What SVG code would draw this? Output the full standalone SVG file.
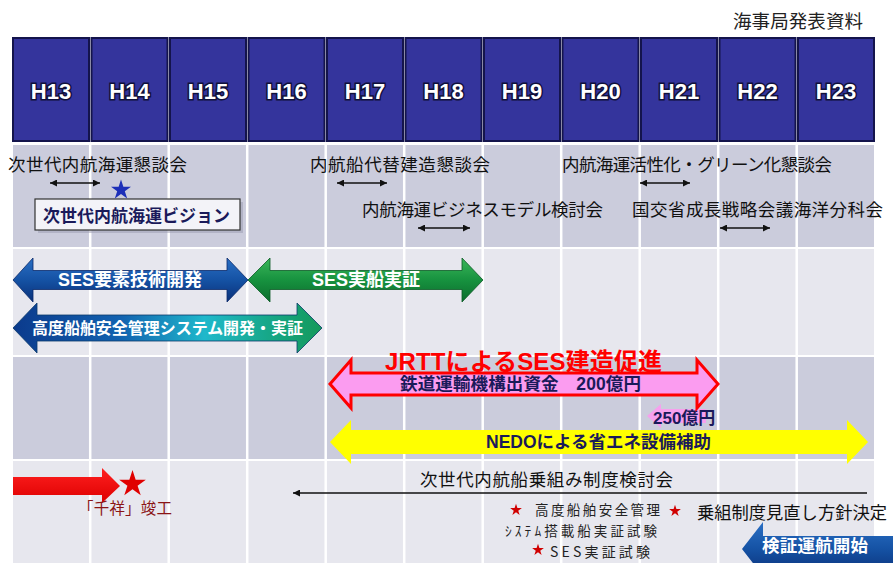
<svg xmlns="http://www.w3.org/2000/svg" width="893" height="563" viewBox="0 0 893 563">
<style>
.hdr{fill:#34349c;stroke:#14144c;stroke-width:2}
.htx{font-family:"Liberation Sans",Arial,sans-serif;font-weight:bold;font-size:22px;fill:#fff;stroke:#10103a;stroke-width:3;paint-order:stroke;text-anchor:middle;dominant-baseline:central}
.jp{font-family:"Noto Sans CJK JP","Liberation Sans",sans-serif;dominant-baseline:central}
.lbl{font-size:17.5px;fill:#111}
.wb{font-family:"Liberation Sans","Noto Sans CJK JP",sans-serif;font-weight:bold;fill:#fff;text-anchor:middle;dominant-baseline:central}
.nb{font-family:"Liberation Sans","Noto Sans CJK JP",sans-serif;font-weight:bold;fill:#1a1a5a;dominant-baseline:central}
.rowA{fill:#cbccdc}
.rowB{fill:#e7e7ee}
.div{stroke:#fff;stroke-width:2.5}
.con{stroke:#111;stroke-width:1.6;fill:none}
.sr{fill:#d00000}
</style>
<defs>
<marker id="ah" viewBox="0 0 10 10" refX="10" refY="5" markerUnits="userSpaceOnUse" markerWidth="9" markerHeight="7" orient="auto-start-reverse">
<path d="M0,0 L10,5 L0,10 z" fill="#111"/>
</marker>
<path id="star" d="M0,-10 L2.245,-3.09 L9.511,-3.09 L3.633,1.18 L5.878,8.09 L0,3.82 L-5.878,8.09 L-3.633,1.18 L-9.511,-3.09 L-2.245,-3.09 Z"/>
<linearGradient id="gBlue" x1="0" y1="0" x2="0" y2="1">
<stop offset="0" stop-color="#2a6fc4"/><stop offset="0.5" stop-color="#1552a4"/><stop offset="1" stop-color="#0a3078"/>
</linearGradient>
<linearGradient id="gGreen" x1="0" y1="0" x2="0" y2="1">
<stop offset="0" stop-color="#3bb65a"/><stop offset="0.5" stop-color="#17923f"/><stop offset="1" stop-color="#0b6c2d"/>
</linearGradient>
<linearGradient id="gTeal" x1="0" y1="0" x2="1" y2="0">
<stop offset="0" stop-color="#0b3a8c"/><stop offset="0.35" stop-color="#1262b0"/><stop offset="0.62" stop-color="#1fb8cb"/><stop offset="0.82" stop-color="#17a88a"/><stop offset="1" stop-color="#14995a"/>
</linearGradient>
<linearGradient id="gRed" x1="0" y1="0" x2="0" y2="1">
<stop offset="0" stop-color="#ff2020"/><stop offset="1" stop-color="#dd0000"/>
</linearGradient>
</defs>

<rect width="893" height="563" fill="#fff"/>

<g id="title"><text class="jp" x="733" y="20" font-size="18.5" fill="#222" textLength="130">海事局発表資料</text></g>

<g id="header">
<g id="h13"><rect class="hdr" x="13" y="38" width="76" height="103"/><text class="htx" x="51" y="91">H13</text></g>
<g id="h14"><rect class="hdr" x="91.5" y="38" width="76" height="103"/><text class="htx" x="129.5" y="91">H14</text></g>
<g id="h15"><rect class="hdr" x="170" y="38" width="76" height="103"/><text class="htx" x="208" y="91">H15</text></g>
<g id="h16"><rect class="hdr" x="248.5" y="38" width="76" height="103"/><text class="htx" x="286.5" y="91">H16</text></g>
<g id="h17"><rect class="hdr" x="327" y="38" width="76" height="103"/><text class="htx" x="365" y="91">H17</text></g>
<g id="h18"><rect class="hdr" x="405.5" y="38" width="76" height="103"/><text class="htx" x="443.5" y="91">H18</text></g>
<g id="h19"><rect class="hdr" x="484" y="38" width="76" height="103"/><text class="htx" x="522" y="91">H19</text></g>
<g id="h20"><rect class="hdr" x="562.5" y="38" width="76" height="103"/><text class="htx" x="600.5" y="91">H20</text></g>
<g id="h21"><rect class="hdr" x="641" y="38" width="76" height="103"/><text class="htx" x="679" y="91">H21</text></g>
<g id="h22"><rect class="hdr" x="719.5" y="38" width="76" height="103"/><text class="htx" x="757.5" y="91">H22</text></g>
<g id="h23"><rect class="hdr" x="798" y="38" width="76" height="103"/><text class="htx" x="836" y="91">H23</text></g>
</g>

<g id="grid">
<rect class="rowA" x="13" y="145" width="861" height="102"/>
<rect class="rowB" x="13" y="249" width="861" height="106"/>
<rect class="rowA" x="13" y="357" width="861" height="102"/>
<rect class="rowB" x="13" y="461" width="861" height="102"/>
<line class="div" x1="90.2" y1="145" x2="90.2" y2="563"/>
<line class="div" x1="168.7" y1="145" x2="168.7" y2="563"/>
<line class="div" x1="247.2" y1="145" x2="247.2" y2="563"/>
<line class="div" x1="325.7" y1="145" x2="325.7" y2="563"/>
<line class="div" x1="404.2" y1="145" x2="404.2" y2="563"/>
<line class="div" x1="482.7" y1="145" x2="482.7" y2="563"/>
<line class="div" x1="561.2" y1="145" x2="561.2" y2="563"/>
<line class="div" x1="639.7" y1="145" x2="639.7" y2="563"/>
<line class="div" x1="718.2" y1="145" x2="718.2" y2="563"/>
<line class="div" x1="796.7" y1="145" x2="796.7" y2="563"/>
</g>

<g id="committees">
<g id="c1"><text class="jp lbl" x="8" y="163" textLength="179">次世代内航海運懇談会</text></g>
<g id="c2"><text class="jp lbl" x="310" y="163" textLength="180">内航船代替建造懇談会</text></g>
<g id="c3"><text class="jp lbl" x="562" y="163" textLength="270">内航海運活性化・グリーン化懇談会</text></g>
<g id="c4"><text class="jp lbl" x="362" y="208" textLength="241">内航海運ビジネスモデル検討会</text></g>
<g id="c5"><text class="jp lbl" x="632" y="208" textLength="251">国交省成長戦略会議海洋分科会</text></g>
<g id="vision">
<rect x="36" y="200" width="205" height="31" fill="#9a9ab0" opacity="0.5" transform="translate(2,2)"/>
<rect x="35" y="199" width="205" height="31" fill="#f3f3f8" stroke="#333" stroke-width="1.2"/>
<text class="nb" x="43" y="216" font-size="17" textLength="187" fill="#1a1a50">次世代内航海運ビジョン</text>
</g>
<g id="bluestar"><use href="#star" fill="#1d2fb8" transform="translate(121,190) scale(1.05)"/></g>
</g>

<g id="dev-arrows">
<g id="ses-dev">
<polygon points="13,280 33,258 33,270.5 227,270.5 227,258 248,280 227,302 227,289.5 33,289.5 33,302" fill="url(#gBlue)" stroke="#0a2a6a" stroke-width="0.8"/>
<text class="wb" x="130" y="280" font-size="18">SES要素技術開発</text>
</g>
<g id="ses-ship">
<polygon points="248,280 270,258 270,270.5 462,270.5 462,258 483,280 462,302 462,289.5 270,289.5 270,302" fill="url(#gGreen)" stroke="#0b5a25" stroke-width="0.8"/>
<text class="wb" x="366" y="280" font-size="18">SES実船実証</text>
</g>
<g id="safety-sys">
<polygon points="13,328 37,303 37,315 297,315 297,303 322,328 297,353 297,341 37,341 37,353" fill="url(#gTeal)" stroke="#0a3a6a" stroke-width="0.8"/>
<text class="wb" x="167.5" y="328" font-size="16" textLength="271">高度船舶安全管理システム開発・実証</text>
</g>
</g>

<g id="funding">
<g id="jrtt">
<polygon points="647,416 661,404 661,409 706,409 706,423 661,423 661,428" fill="#f7a0ee"/>
<text class="nb" x="653" y="418" font-size="17">250億円</text>
<polygon points="330,384 351,360 351,373 697,373 697,360 718,384 697,408 697,395 351,395 351,408" fill="#fb9cf0" stroke="#ff0000" stroke-width="3" stroke-linejoin="miter"/>
<text class="nb" x="400" y="384" font-size="17.5" textLength="241">鉄道運輸機構出資金　200億円</text>
<text x="385" y="370" font-family="Liberation Sans,Noto Sans CJK JP,sans-serif" font-weight="bold" font-size="24" fill="#ff0000" textLength="277">JRTTによるSES建造促進</text>
</g>
<g id="nedo">
<polygon points="330,442 351,420 351,430 847,430 847,420 868,442 847,464 847,454 351,454 351,464" fill="#ffff00"/>
<text class="nb" x="486" y="442" font-size="17.5" textLength="225">NEDOによる省エネ設備補助</text>
</g>
</g>

<g id="crew">
<g id="senshou">
<polygon points="13,477 102,477 102,468 120,486 102,503 102,495 13,495" fill="url(#gRed)"/>
<use href="#star" fill="#e00000" transform="translate(132.5,484) scale(1.4)"/>
<text class="jp" x="78" y="507" font-size="15.5" fill="#8b1515" textLength="94">「千祥」竣工</text>
</g>
<g id="crew-study"><text class="jp lbl" x="420" y="478" textLength="253">次世代内航船乗組み制度検討会</text></g>
<g id="m1">
<use class="sr" href="#star" transform="translate(516,510) scale(0.62)"/>
<text class="jp" x="535" y="509" font-size="13.5" fill="#222" textLength="125">高度船舶安全管理</text>
<text class="jp" x="505" y="529.5" font-size="13.5" fill="#222" textLength="152">ｼｽﾃﾑ搭載船実証試験</text>
</g>
<g id="m2">
<use class="sr" href="#star" transform="translate(675,511) scale(0.62)"/>
<text class="jp" x="697" y="511" font-size="17.3" fill="#111" textLength="190">乗組制度見直し方針決定</text>
</g>
<g id="m3">
<use class="sr" href="#star" transform="translate(538,550) scale(0.62)"/>
<text class="jp" x="550" y="550.5" font-size="14" fill="#222" textLength="100">SES実証試験</text>
</g>
<g id="trial">
<polygon points="742,549 763,522 763,536 893,536 893,563 763,563 763,576" fill="url(#gBlue)"/>
<text class="wb" x="815" y="546" font-size="17.5" textLength="106">検証運航開始</text>
</g>
</g>

<g id="connectors">
<line class="con" x1="50" y1="183" x2="100" y2="183" marker-start="url(#ah)" marker-end="url(#ah)"/>
<line class="con" x1="337" y1="183" x2="387" y2="183" marker-start="url(#ah)" marker-end="url(#ah)"/>
<line class="con" x1="418" y1="228" x2="470" y2="228" marker-start="url(#ah)" marker-end="url(#ah)"/>
<line class="con" x1="640" y1="183" x2="690" y2="183" marker-start="url(#ah)" marker-end="url(#ah)"/>
<line class="con" x1="720" y1="228" x2="770" y2="228" marker-start="url(#ah)" marker-end="url(#ah)"/>
<line class="con" x1="867" y1="493" x2="293" y2="493" marker-end="url(#ah)"/>
</g>
</svg>
